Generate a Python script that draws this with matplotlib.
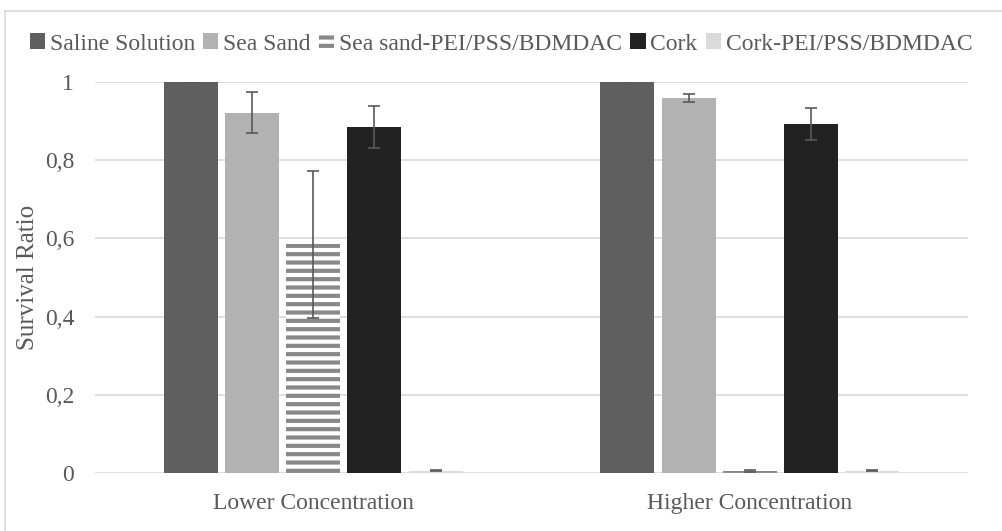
import matplotlib
matplotlib.use("Agg")
import matplotlib.pyplot as plt
from matplotlib.lines import Line2D
import numpy as np

GREY_TXT = "#595959"
GRID = "#d9d9d9"

groups = ["Lower Concentration", "Higher Concentration"]
series = ["Saline Solution", "Sea Sand", "Sea sand-PEI/PSS/BDMDAC", "Cork", "Cork-PEI/PSS/BDMDAC"]
values = [
    [1.0, 1.0],
    [0.921, 0.959],
    [0.585, 0.006],
    [0.884, 0.892],
    [0.007, 0.007],
]
errors = [
    [0.0, 0.0],
    [0.052, 0.010],
    [0.188, 0.002],
    [0.053, 0.042],
    [0.002, 0.002],
]
colors = ["#5f5f5f", "#b2b2b2", "#ffffff", "#222222", "#dadada"]
hatches = [None, None, "--", None, None]

plt.rcParams["font.family"] = ["Liberation Serif", "DejaVu Serif"]
plt.rcParams["hatch.linewidth"] = 3.0

fig = plt.figure(figsize=(10.02, 5.31), dpi=100)
ax = fig.add_axes([95 / 1002, 1 - 473.3 / 531, 873 / 1002, 391.6 / 531])

x = np.arange(len(groups))
step = 0.1403
width = 0.1237
for i, name in enumerate(series):
    pos = x + (i - 2) * step
    if hatches[i]:
        ax.bar(pos, values[i], width, color="white", edgecolor="#888888",
               hatch=hatches[i], linewidth=0, label=name, zorder=2)
    else:
        ax.bar(pos, values[i], width, color=colors[i], linewidth=0,
               label=name, zorder=2)
    ax.errorbar(pos, values[i], yerr=errors[i], fmt="none", ecolor=GREY_TXT,
                elinewidth=1.2, capsize=4.3, capthick=1.2, zorder=3)

ax.set_xlim(-0.5, 1.5)
ax.set_ylim(0, 1)
ax.set_yticks([0, 0.2, 0.4, 0.6, 0.8, 1.0])
ax.set_yticklabels(["0", "0,2", "0,4", "0,6", "0,8", "1"])
ax.set_xticks(x)
ax.set_xticklabels(groups)
ax.tick_params(axis="both", length=0, labelsize=17, colors=GREY_TXT)
ax.tick_params(axis="y", pad=15)
ax.tick_params(axis="x", pad=14)
ax.grid(axis="y", color=GRID, linewidth=1.2, zorder=0)
ax.set_axisbelow(True)
for s in ax.spines.values():
    s.set_visible(False)

ax.set_ylabel("Survival Ratio", fontsize=18, color=GREY_TXT)
ax.yaxis.set_label_coords(-0.064, 0.5)

ax.legend(loc="center", bbox_to_anchor=(0.500, 0.917), bbox_transform=fig.transFigure,
          ncol=5, frameon=False, fontsize=17, labelcolor=GREY_TXT,
          handlelength=0.65, handleheight=0.65, handletextpad=0.2,
          columnspacing=0.35, borderpad=0)

# outer chart frame
fig.add_artist(Line2D([4.5 / 1002, 1], [1 - 11 / 531, 1 - 11 / 531],
                      transform=fig.transFigure, color=GRID, linewidth=1.2))
fig.add_artist(Line2D([4.5 / 1002, 4.5 / 1002], [0, 1 - 11 / 531],
                      transform=fig.transFigure, color=GRID, linewidth=1.2))

fig.savefig("out.png", dpi=100, facecolor="white")
